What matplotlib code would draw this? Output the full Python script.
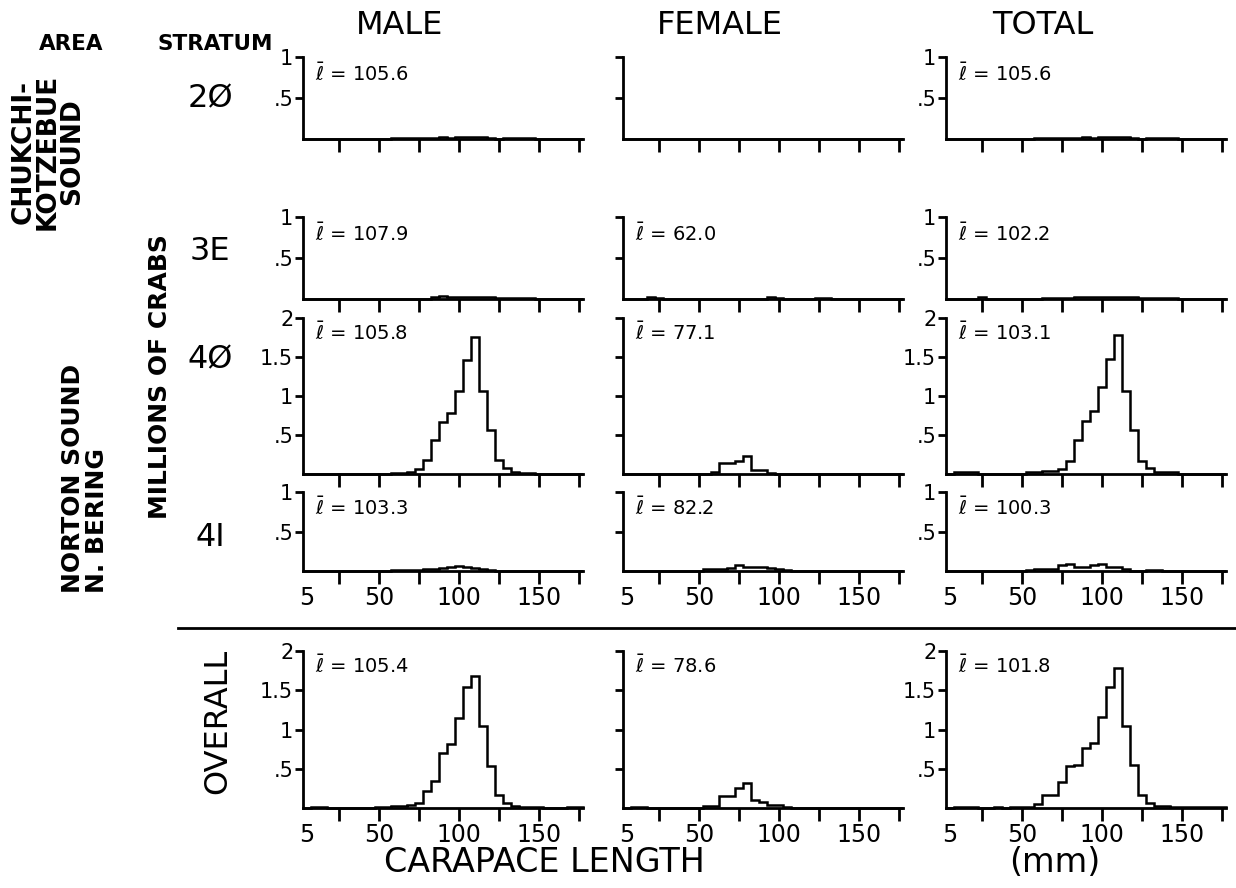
import matplotlib
matplotlib.use("Agg")
import matplotlib.pyplot as plt
from matplotlib.lines import Line2D

plt.rcParams['font.family'] = ['DejaVu Sans']

# carapace length classes, 5 mm wide, centred on 5, 10, ... 175
centers = list(range(5, 180, 5))
edges = [c - 2.5 for c in centers] + [centers[-1] + 2.5]

# millions of crabs per length class
#            5-35                          40-70                              75-105                                   110-140                                  145-175
male_20 = [0, 0, 0, 0, 0, 0, 0,           0, 0, 0, 0, 0.01, 0.01, 0.01,       0.01, 0.01, 0.01, 0.02, 0.01, 0.02, 0.02,   0.03, 0.02, 0.01, 0, 0.01, 0.01, 0.01,   0.01, 0, 0, 0, 0, 0, 0]
female_20 = [0] * 35
total_20 = [0, 0, 0, 0, 0, 0, 0,          0, 0, 0, 0, 0.01, 0.01, 0.01,       0.01, 0.01, 0.01, 0.02, 0.01, 0.02, 0.02,   0.03, 0.02, 0.01, 0, 0.01, 0.01, 0.01,   0.01, 0, 0, 0, 0, 0, 0]

male_3E = [0, 0, 0, 0, 0, 0, 0,           0, 0, 0, 0, 0, 0, 0,                0, 0, 0.02, 0.04, 0.03, 0.02, 0.03,         0.03, 0.03, 0.02, 0.01, 0.01, 0.01, 0.01, 0.01, 0, 0, 0, 0, 0, 0]
female_3E = [0, 0, 0, 0.02, 0.01, 0, 0,   0, 0, 0, 0, 0, 0, 0,                0, 0, 0, 0, 0.02, 0.01, 0,                  0, 0, 0, 0.01, 0.01, 0, 0,               0, 0, 0, 0, 0, 0, 0]
total_3E = [0, 0, 0, 0, 0.03, 0, 0,       0, 0, 0, 0, 0, 0.01, 0.01,          0.01, 0.01, 0.02, 0.03, 0.03, 0.02, 0.03,   0.03, 0.03, 0.03, 0.01, 0.01, 0.01, 0.01, 0.01, 0, 0, 0, 0, 0, 0]

male_40 = [0, 0, 0, 0, 0, 0, 0,           0, 0, 0, 0, 0.01, 0.01, 0.02,       0.06, 0.18, 0.44, 0.67, 0.78, 1.07, 1.46,   1.76, 1.07, 0.56, 0.18, 0.08, 0.02, 0.01, 0.01, 0, 0, 0, 0, 0, 0]
female_40 = [0, 0, 0, 0, 0, 0, 0,         0, 0, 0, 0, 0.02, 0.14, 0.14,       0.17, 0.23, 0.05, 0.05, 0.01, 0, 0,         0, 0, 0, 0, 0, 0, 0,                     0, 0, 0, 0, 0, 0, 0]
total_40 = [0, 0.02, 0.02, 0.02, 0, 0, 0, 0, 0, 0, 0.03, 0.03, 0.04, 0.04,   0.07, 0.17, 0.43, 0.68, 0.81, 1.11, 1.48,   1.78, 1.06, 0.57, 0.17, 0.08, 0.03, 0.03, 0.02, 0, 0, 0, 0, 0, 0]

male_4I = [0, 0, 0, 0, 0, 0, 0,           0, 0, 0, 0, 0.01, 0.01, 0.01,       0.01, 0.03, 0.03, 0.04, 0.05, 0.06, 0.05,   0.04, 0.03, 0.01, 0, 0, 0, 0,           0, 0, 0, 0, 0, 0, 0]
female_4I = [0, 0, 0, 0, 0, 0, 0,         0, 0, 0, 0.02, 0.03, 0.03, 0.04,    0.07, 0.05, 0.05, 0.05, 0.04, 0.02, 0.01,   0, 0, 0, 0, 0, 0, 0,                     0, 0, 0, 0, 0, 0, 0]
total_4I = [0, 0, 0, 0, 0, 0, 0,          0, 0, 0, 0.01, 0.02, 0.02, 0.02,    0.07, 0.09, 0.05, 0.05, 0.07, 0.09, 0.05,   0.05, 0.02, 0, 0, 0.01, 0.01, 0,         0, 0, 0, 0, 0, 0, 0]

male_all = [0, 0.01, 0.01, 0, 0, 0, 0,    0, 0.005, 0.01, 0.01, 0.03, 0.03, 0.04, 0.06, 0.22, 0.35, 0.70, 0.81, 1.15, 1.54,  1.68, 1.04, 0.54, 0.16, 0.06, 0.02, 0.01, 0.01, 0.01, 0, 0, 0, 0.01, 0.01]
female_all = [0, 0.01, 0.01, 0, 0, 0, 0,  0, 0, 0, 0.02, 0.02, 0.15, 0.15,    0.25, 0.32, 0.10, 0.08, 0.04, 0.04, 0.01,   0, 0, 0, 0, 0, 0, 0,                     0, 0, 0, 0, 0, 0, 0]
total_all = [0, 0.01, 0.01, 0.01, 0, 0, 0.01, 0, 0.01, 0.01, 0.01, 0.05, 0.17, 0.17, 0.33, 0.53, 0.55, 0.76, 0.83, 1.16, 1.54, 1.78, 1.04, 0.55, 0.17, 0.06, 0.03, 0.02, 0.01, 0.01, 0.01, 0.01, 0.01, 0.01, 0.01]

mean_male = [105.6, 107.9, 105.8, 103.3, 105.4]
mean_female = [None, 62.0, 77.1, 82.2, 78.6]
mean_total = [105.6, 102.2, 103.1, 100.3, 101.8]

strata = ["2Ø", "3E", "4Ø", "4I"]
columns = ["MALE", "FEMALE", "TOTAL"]

panels = [
    [male_20, female_20, total_20],
    [male_3E, female_3E, total_3E],
    [male_40, female_40, total_40],
    [male_4I, female_4I, total_4I],
    [male_all, female_all, total_all],
]
means = list(zip(mean_male, mean_female, mean_total))

W, H = 1236, 888
fig = plt.figure(figsize=(W / 100, H / 100), dpi=100)

col_left = [303, 623, 946]
col_w = 280
# (top px, bottom px, y max) for each row of panels
rows = [(57, 139, 1), (217, 299, 1), (318, 474, 2), (492, 571, 1), (651, 808, 2)]

for r, (top, bot, ymax) in enumerate(rows):
    for c, left in enumerate(col_left):
        ax = fig.add_axes([left / W, 1 - bot / H, col_w / W, (bot - top) / H])
        ax.stairs(panels[r][c], edges, color="black", lw=1.8, baseline=0, clip_on=False)
        ax.set_xlim(2.5, 177.5)
        ax.set_ylim(0, ymax)
        for s in ("top", "right"):
            ax.spines[s].set_visible(False)
        for s in ("left", "bottom"):
            ax.spines[s].set_linewidth(2)

        if ymax == 1:
            ax.set_yticks([0.5, 1])
            ylabs = [".5", "1"]
        else:
            ax.set_yticks([0.5, 1, 1.5, 2])
            ylabs = [".5", "1", "1.5", "2"]
        ax.set_yticklabels(ylabs if c != 1 else [""] * len(ylabs))

        ax.set_xticks([25, 50, 75, 100, 125, 150, 175])
        if r >= 3:
            ax.set_xticklabels(["", "50", "", "100", "", "150", ""])
            ax.set_xticks([5], minor=True)
            ax.set_xticklabels(["5"], minor=True)
        else:
            ax.set_xticklabels([])
        ax.tick_params(axis="x", which="major", direction="out", length=9, width=2,
                       labelsize=17, pad=2)
        ax.tick_params(axis="x", which="minor", length=0, labelsize=17, pad=11)
        ax.tick_params(axis="y", direction="out", length=6, width=2, labelsize=15, pad=1)

        m = means[r][c]
        if m is not None:
            ax.text(10, 0.8 * ymax if ymax == 1 else 1.82, r"$\bar{\ell}$" + f" = {m:.1f}",
                    fontsize=14, va="center", ha="left")

# column headers
for left, name in zip(col_left, columns):
    fig.text((left + 97) / W, 1 - 25 / H, name, fontsize=23, ha="center", va="center")

fig.text(71 / W, 1 - 44 / H, "AREA", fontsize=15.5, fontweight="bold", ha="center", va="center")
fig.text(215 / W, 1 - 44 / H, "STRATUM", fontsize=15.5, fontweight="bold", ha="center", va="center")

for label, y in zip(strata, [99, 252, 360, 537]):
    fig.text(210 / W, 1 - y / H, label, fontsize=23, ha="center", va="center")

fig.text(48 / W, 1 - 152 / H, "CHUKCHI-\nKOTZEBUE\nSOUND", rotation=90, fontsize=19,
         fontweight="bold", ha="center", va="center", multialignment="center", linespacing=0.92)
fig.text(85 / W, 1 - 478 / H, "NORTON SOUND\nN. BERING", rotation=90, fontsize=18,
         fontweight="bold", ha="center", va="center", multialignment="left", linespacing=1.05)
fig.text(160 / W, 1 - 377 / H, "MILLIONS OF CRABS", rotation=90, fontsize=18,
         fontweight="bold", ha="center", va="center")
fig.text(218 / W, 1 - 721 / H, "OVERALL", rotation=90, fontsize=23, ha="center", va="center")

fig.text(544 / W, 1 - 862 / H, "CARAPACE LENGTH", fontsize=24, ha="center", va="center")
fig.text(1055 / W, 1 - 862 / H, "(mm)", fontsize=24, ha="center", va="center")

fig.add_artist(Line2D([178 / W, 1], [1 - 628 / H] * 2, transform=fig.transFigure,
                      color="black", lw=2))

fig.savefig("out.png", dpi=100)
